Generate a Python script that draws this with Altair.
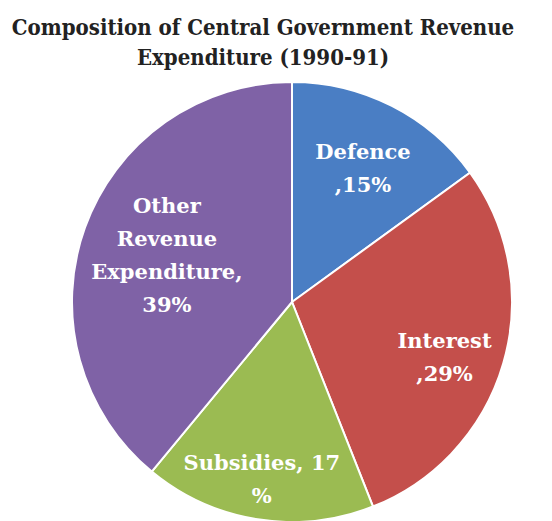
import altair as alt
import pandas as pd

categories = ["Defence", "Interest", "Subsidies", "Other Revenue Expenditure"]
values = [15, 29, 17, 39]
labels = ["Defence\n,15%", "Interest\n,29%", "Subsidies, 17\n%", "Other\nRevenue\nExpenditure,\n39%"]
colors = ["#4A7EC4", "#C44F4B", "#9BBB52", "#7F62A6"]

df = pd.DataFrame({
    "category": categories,
    "value": values,
    "label": labels,
    "idx": list(range(len(categories))),
})

CX, CY, R = 284, 222, 220
FONT = "DejaVu Serif"

base = alt.Chart(df).encode(
    theta=alt.Theta("value:Q", stack=True),
    order=alt.Order("idx:Q"),
    x=alt.value(CX),
    y=alt.value(CY),
)

arcs = base.mark_arc(outerRadius=R, stroke="white", strokeWidth=2).encode(
    color=alt.Color("category:N", scale=alt.Scale(domain=categories, range=colors), legend=None)
)

label_setup = [
    ("Defence", 152, 2, -14),
    ("Interest", 162, -3, -5),
    ("Subsidies", 180, -2, -16),
    ("Other Revenue Expenditure", 134, 1, -50),
]

layers = [arcs]
for cat, rad, dx, dy in label_setup:
    layers.append(
        base.mark_text(
            radius=rad, dx=dx, dy=dy, font=FONT, fontSize=21,
            fontWeight="bold", color="white", lineBreak="\n", lineHeight=33,
            align="center", baseline="middle",
        ).encode(text=alt.condition(alt.datum.category == cat, "label:N", alt.value("")))
    )

chart = alt.layer(*layers).properties(
    width=510,
    height=441,
    padding={"left": 0, "top": 72, "right": 26, "bottom": 0},
    autosize=alt.AutoSizeParams(type="none"),
    title=alt.Title(
        ["Composition of Central Government Revenue", "Expenditure (1990-91)"],
        font="DejaVu Serif Condensed", fontSize=22, fontWeight="bold", color="#222222",
        anchor="middle", lineHeight=30, offset=8,
    ),
).configure_view(stroke=None)

chart.save("out.html", embed_options={"renderer": "svg", "actions": False})
